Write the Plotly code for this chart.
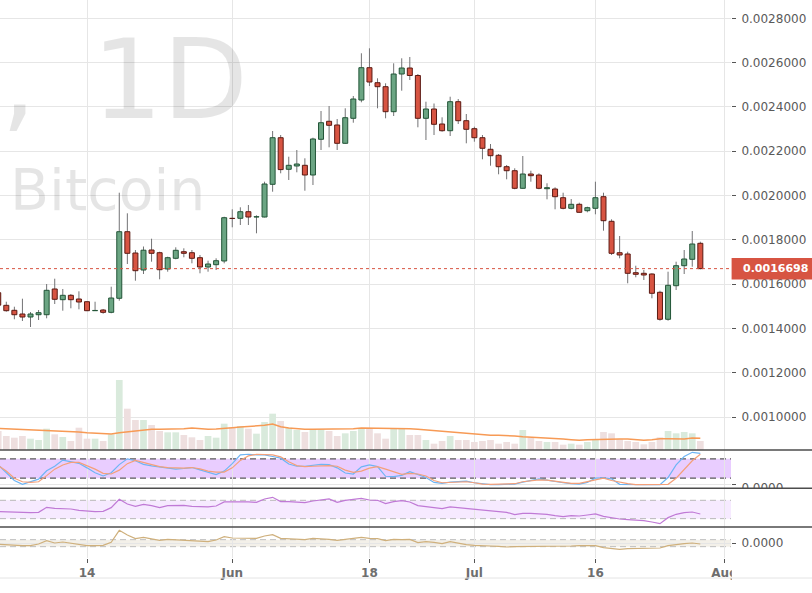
import pandas as pd
import plotly.graph_objects as go

# daily candles, 2018-05-03 .. 2018-07-29 (price in BTC)
dates = pd.date_range("2018-05-03", "2018-07-29", freq="D")

opens = [0.0015611, 0.0015042, 0.0014817, 0.0014650, 0.0014514, 0.0014618, 0.0014618, 0.0015779, 0.0015296, 0.0015494,
         0.0015327, 0.0015205, 0.0014799, 0.0014830, 0.0014726, 0.0015359, 0.0018365, 0.0017404, 0.0016636, 0.0017539,
         0.0017417, 0.0016681, 0.0017164, 0.0017462, 0.0017417, 0.0017192, 0.0016772, 0.0016876, 0.0017043, 0.0018970,
         0.0018970, 0.0019268, 0.0019029, 0.0019029, 0.0020505, 0.0022609, 0.0021183, 0.0021332, 0.0021363, 0.0020925,
         0.0022537, 0.0023350, 0.0023183, 0.0022356, 0.0023485, 0.0024311, 0.0025770, 0.0025092, 0.0024912, 0.0023783,
         0.0025485, 0.0025756, 0.0025417, 0.0023485, 0.0023905, 0.0023228, 0.0022925, 0.0024235, 0.0023377, 0.0023016,
         0.0022609, 0.0022086, 0.0021815, 0.0021300, 0.0021119, 0.0020325, 0.0020970, 0.0020925, 0.0020307, 0.0020293,
         0.0019900, 0.0019422, 0.0019602, 0.0019314, 0.0019422, 0.0019946, 0.0018835, 0.0017417, 0.0017359, 0.0016515,
         0.0016487, 0.0016456, 0.0015630, 0.0014411, 0.0015927, 0.0016830, 0.0017119, 0.0017842]
highs = [0.0015733, 0.0015205, 0.0014979, 0.0015341, 0.0014740, 0.0014830, 0.0016004, 0.0016244, 0.0015779, 0.0015553,
         0.0015675, 0.0015220, 0.0015205, 0.0014876, 0.0015882, 0.0020126, 0.0019196, 0.0017539, 0.0017697, 0.0018049,
         0.0017462, 0.0017237, 0.0017661, 0.0017616, 0.0017539, 0.0017314, 0.0017056, 0.0017164, 0.0019042, 0.0019377,
         0.0019467, 0.0019571, 0.0019106, 0.0020623, 0.0022912, 0.0022731, 0.0021751, 0.0022054, 0.0021679, 0.0022609,
         0.0023815, 0.0024040, 0.0023453, 0.0023937, 0.0024492, 0.0026420, 0.0026645, 0.0025291, 0.0025065, 0.0025968,
         0.0026194, 0.0026253, 0.0025485, 0.0024235, 0.0024153, 0.0023530, 0.0024460, 0.0024356, 0.0023679, 0.0023106,
         0.0022731, 0.0022325, 0.0021873, 0.0021377, 0.0021228, 0.0021783, 0.0021119, 0.0021002, 0.0020551, 0.0020370,
         0.0020126, 0.0019842, 0.0019675, 0.0019494, 0.0020623, 0.0020126, 0.0018925, 0.0018171, 0.0017462, 0.0016830,
         0.0016636, 0.0016487, 0.0015702, 0.0016560, 0.0017011, 0.0017539, 0.0018397, 0.0017914]
lows = [0.0014876, 0.0014754, 0.0014411, 0.0014334, 0.0014063, 0.0014379, 0.0014456, 0.0015101, 0.0014799, 0.0014907,
        0.0014862, 0.0014780, 0.0014790, 0.0014663, 0.0014681, 0.0015250, 0.0016907, 0.0016153, 0.0016456, 0.0017011,
        0.0016216, 0.0016560, 0.0017119, 0.0017210, 0.0016939, 0.0016487, 0.0016560, 0.0016636, 0.0016939, 0.0018564,
        0.0018668, 0.0018668, 0.0018293, 0.0019010, 0.0020171, 0.0021002, 0.0020700, 0.0021047, 0.0020216, 0.0020474,
        0.0022054, 0.0022176, 0.0022054, 0.0022340, 0.0023286, 0.0024207, 0.0024943, 0.0023937, 0.0023485, 0.0023589,
        0.0024731, 0.0025214, 0.0023079, 0.0022505, 0.0022731, 0.0022880, 0.0022686, 0.0023228, 0.0022356, 0.0022429,
        0.0021634, 0.0021345, 0.0020957, 0.0020731, 0.0020280, 0.0020310, 0.0020623, 0.0020280, 0.0019828, 0.0019377,
        0.0019377, 0.0019377, 0.0019223, 0.0019241, 0.0019151, 0.0018411, 0.0017314, 0.0017164, 0.0016036, 0.0016307,
        0.0016185, 0.0015359, 0.0014347, 0.0014347, 0.0015733, 0.0016456, 0.0016785, 0.0016668]
closes = [0.0015050, 0.0014799, 0.0014618, 0.0014514, 0.0014650, 0.0014709, 0.0015720, 0.0015314, 0.0015494, 0.0015296,
          0.0015192, 0.0014799, 0.0014810, 0.0014726, 0.0015372, 0.0018365, 0.0017390, 0.0016605, 0.0017530, 0.0017390,
          0.0016650, 0.0017192, 0.0017526, 0.0017390, 0.0017164, 0.0016772, 0.0016907, 0.0017056, 0.0018997, 0.0018960,
          0.0019268, 0.0019029, 0.0019042, 0.0020519, 0.0022609, 0.0021169, 0.0021363, 0.0021422, 0.0020925, 0.0022551,
          0.0023286, 0.0023169, 0.0022356, 0.0023512, 0.0024356, 0.0025770, 0.0025124, 0.0024912, 0.0023783, 0.0025485,
          0.0025756, 0.0025417, 0.0023485, 0.0023905, 0.0023214, 0.0022925, 0.0024235, 0.0023377, 0.0022988, 0.0022609,
          0.0022131, 0.0021797, 0.0021300, 0.0021119, 0.0020325, 0.0020970, 0.0020894, 0.0020325, 0.0020352, 0.0019946,
          0.0019422, 0.0019602, 0.0019241, 0.0019449, 0.0019900, 0.0018862, 0.0017390, 0.0017314, 0.0016487, 0.0016442,
          0.0016411, 0.0015584, 0.0014411, 0.0015945, 0.0016830, 0.0017133, 0.0017810, 0.0016698]

volume = [57, 42, 37, 42, 34, 30, 64, 47, 39, 27, 67, 34, 34, 27, 47, 210, 124, 90, 90, 75,
          57, 53, 53, 45, 38, 30, 42, 37, 79, 67, 72, 64, 49, 84, 109, 87, 67, 60, 54, 62,
          62, 57, 42, 50, 57, 65, 66, 50, 34, 64, 64, 45, 45, 30, 19, 27, 42, 30, 30, 24,
          27, 30, 19, 24, 19, 60, 37, 27, 24, 24, 16, 19, 16, 24, 32, 54, 50, 32, 27, 24,
          17, 24, 38, 57, 50, 54, 50, 27]
volume_ma = [65, 64, 64, 63, 62, 61, 59, 58, 57, 55, 54, 52, 50, 49, 48, 52, 55, 58, 61, 62,
             62, 62, 62, 64, 66, 64, 62, 63, 66, 67, 69, 70, 72, 74, 78, 70, 66, 63, 62, 62,
             62, 62, 62, 62, 64, 66, 66, 66, 66, 66, 66, 64, 62, 60, 57, 55, 53, 51, 49, 47,
             45, 44, 44, 44, 42, 40, 39, 38, 37, 35, 33, 31, 29, 31, 32, 33, 33, 33, 33, 32,
             29, 31, 34, 34, 34, 33, 36, 35]

stoch_k = [61, 36, 13, 1, 10, 17, 43, 57, 76, 71, 66, 52, 37, 27, 37, 62, 80, 74, 63, 58,
           54, 50, 48, 50, 53, 46, 38, 31, 42, 65, 92, 94, 92, 92, 87, 82, 64, 57, 57, 59,
           63, 62, 52, 36, 33, 55, 61, 56, 26, 25, 29, 40, 31, 22, 7, 4, 8, 9, 11, 6,
           2, 0, 0, 0, 2, 8, 13, 18, 14, 9, 6, 3, 2, 7, 20, 21, 18, 1, 0, 0,
           0, 0, 0, 22, 61, 87, 100, 97]
stoch_d = [59, 42, 20, 9, 7, 9, 28, 48, 61, 69, 69, 59, 48, 35, 33, 45, 65, 75, 68, 61,
           56, 53, 51, 51, 53, 49, 42, 39, 39, 52, 75, 89, 94, 94, 92, 86, 71, 59, 56, 57,
           59, 59, 57, 45, 38, 42, 51, 56, 48, 40, 32, 35, 33, 27, 13, 6, 7, 9, 9, 6,
           2, 1, 1, 1, 3, 9, 13, 15, 14, 10, 6, 4, 4, 9, 16, 20, 13, 7, 3, 0,
           0, 0, 0, 1, 20, 48, 74, 94]

rsi = [45.3, 44.5, 43.1, 43.1, 43.1, 43.8, 54.7, 52.5, 51.8, 51.1, 48.2, 46.0, 45.3, 46.0, 54.0, 72.2, 62.0, 56.9, 61.3, 58.4,
       54.0, 58.4, 59.1, 59.1, 56.9, 55.5, 55.5, 57.6, 66.4, 66.4, 67.1, 66.4, 65.6, 72.9, 76.5, 67.1, 67.1, 65.6, 64.9, 68.5,
       71.5, 72.9, 65.6, 70.0, 72.2, 74.4, 70.7, 70.0, 62.7, 67.1, 69.3, 66.4, 58.4, 56.2, 54.7, 51.8, 55.5, 54.0, 51.8, 50.4,
       48.2, 47.5, 46.0, 43.8, 38.7, 41.6, 41.6, 40.9, 39.5, 36.5, 34.4, 36.5, 35.8, 38.0, 40.2, 35.1, 31.5, 29.3, 27.8, 27.1,
       25.6, 22.7, 19.1, 32.2, 39.5, 43.1, 44.5, 40.2]

cci = [-33, -52, -71, -71, -71, -24, 71, 5, 33, -5, -33, -71, -71, -62, 24, 367, 233, 129, 167, 129,
       81, 109, 100, 90, 62, 52, 43, 90, 186, 148, 148, 148, 138, 205, 243, 138, 119, 109, 100, 138,
       129, 109, 81, 109, 138, 167, 138, 129, 71, 109, 100, 109, 14, 43, 24, -14, 43, -5, -43, -62,
       -81, -81, -90, -109, -100, -100, -100, -90, -100, -90, -81, -81, -71, -62, -71, -129, -157, -176, -157, -148,
       -138, -138, -138, -71, -33, -14, 5, -24]

last_price = 0.0016698
price_ticks = [0.0010, 0.0012, 0.0014, 0.0016, 0.0018, 0.0020, 0.0022, 0.0024, 0.0026, 0.0028]
date_ticks = ["2018-05-14", "2018-06-01", "2018-06-18", "2018-07-01", "2018-07-16", "2018-08-01"]
date_labels = ["14", "Jun", "18", "Jul", "16", "Aug"]

UP, DOWN = "#6ba583", "#d75442"
UP_EDGE, DOWN_EDGE = "#225437", "#5b1a13"
FONT = "DejaVu Sans"

x_start = pd.Timestamp("2018-05-03 05:17")
x_end = pd.Timestamp("2018-08-01 19:12")
PW = 731.0   # plot width in px
PH = 558.0   # plot height in px
DAY_MS = 86400000
P_TOP = 0.0028826   # price at top edge
P_PX = 4.5147e-6    # price per pixel


def xpx(px):
    return x_start + (x_end - x_start) * (px / PW)


def fy(py):
    # paper y from pixel row
    return 1 - py / PH


up = [c >= o for o, c in zip(opens, closes)]
body_base = [min(o, c) for o, c in zip(opens, closes)]
body_h = [abs(c - o) for o, c in zip(opens, closes)]

wick_x, wick_y = [], []
for d, lo, hi in zip(dates, lows, highs):
    wick_x += [d, d, None]
    wick_y += [lo, hi, None]

fig = go.Figure()

# watermark
fig.add_trace(go.Scatter(
    x=[xpx(248), xpx(10)], y=[P_TOP - 90 * P_PX, P_TOP - 196 * P_PX],
    mode="text", text=[",\u20021D", "Bitcoin"], textposition=["middle left", "middle right"],
    textfont=dict(family=FONT, size=[111, 57], color="rgba(0,0,0,0.1)"),
    hoverinfo="skip", zorder=0))

fig.add_trace(go.Scatter(x=wick_x, y=wick_y, mode="lines", line=dict(color="#737375", width=1),
                         hoverinfo="skip", zorder=1))
fig.add_trace(go.Bar(x=dates, y=body_h, base=body_base, width=0.62 * DAY_MS,
                     marker=dict(color=[UP if u else DOWN for u in up],
                                 line=dict(color=[UP_EDGE if u else DOWN_EDGE for u in up], width=1)),
                     zorder=2))

# volume overlay
fig.add_trace(go.Bar(x=dates, y=volume, width=0.83 * DAY_MS, yaxis="y2",
                     marker=dict(color=["#d9eadc" if u else "#eedfdf" for u in up], line=dict(width=0))))
fig.add_trace(go.Scatter(x=dates, y=volume_ma, yaxis="y2", mode="lines",
                         line=dict(color="#f79a55", width=1.5)))

# stochastic
fig.add_trace(go.Scatter(x=dates, y=stoch_k, yaxis="y3", mode="lines", line=dict(color="#6db5f5", width=1.2)))
fig.add_trace(go.Scatter(x=dates, y=stoch_d, yaxis="y3", mode="lines", line=dict(color="#f4a07a", width=1.2)))
# rsi
fig.add_trace(go.Scatter(x=dates, y=rsi, yaxis="y4", mode="lines", line=dict(color="#c07ad6", width=1.2)))
# cci
fig.add_trace(go.Scatter(x=dates, y=cci, yaxis="y5", mode="lines", line=dict(color="#cfb07c", width=1.2)))

shapes = []


def hband(yref, lo, hi, fill):
    shapes.append(dict(type="rect", xref="paper", x0=0, x1=1, yref=yref, y0=lo, y1=hi,
                       fillcolor=fill, line=dict(width=0), layer="below"))


def hdash(yref, yv, color, w):
    shapes.append(dict(type="line", xref="paper", x0=0, x1=1, yref=yref, y0=yv, y1=yv,
                       line=dict(color=color, width=w, dash="6px,4px"), layer="below"))


hband("y3", 20, 80, "rgba(153,21,255,0.21)")
hdash("y3", 20, "#5c5c5c", 1.3)
hdash("y3", 80, "#5c5c5c", 1.3)
hband("y4", 30, 70, "rgba(153,21,255,0.09)")
hdash("y4", 30, "#b8b8b8", 1)
hdash("y4", 70, "#b8b8b8", 1)
hband("y5", -100, 100, "rgba(160,130,70,0.12)")
hdash("y5", -100, "#bdbdbd", 1)
hdash("y5", 100, "#bdbdbd", 1)

# last price line and label
shapes.append(dict(type="line", xref="paper", x0=0, x1=1, yref="y", y0=last_price, y1=last_price,
                   line=dict(color=DOWN, width=1, dash="dot"), layer="above"))
shapes.append(dict(type="rect", xref="paper", x0=731.6 / PW, x1=812 / PW, yref="y",
                   y0=last_price - 4.85e-5, y1=last_price + 4.85e-5,
                   fillcolor=DOWN, line=dict(width=0), layer="above"))
# clip boxes (stoch scale label, Aug label)
shapes.append(dict(type="rect", xref="paper", x0=732.5 / PW, x1=812 / PW, yref="paper",
                   y0=fy(497), y1=fy(488.3), fillcolor="white", line=dict(width=0), layer="above"))
shapes.append(dict(type="rect", xref="paper", x0=731.8 / PW, x1=812 / PW, yref="paper",
                   y0=fy(592), y1=fy(559.5), fillcolor="white", line=dict(width=0), layer="above"))
# pane separators
for py in (450, 488.3, 527):
    shapes.append(dict(type="line", xref="paper", x0=0, x1=812 / PW, yref="paper", y0=fy(py), y1=fy(py),
                       line=dict(color="#4c4c4c", width=1.5), layer="above"))
shapes.append(dict(type="line", xref="paper", x0=0, x1=812 / PW, yref="paper", y0=fy(578), y1=fy(578),
                   line=dict(color="#e4e4e4", width=1), layer="above"))

axis_common = dict(side="right", anchor="x", showline=True, linecolor="#555", linewidth=1,
                   ticks="outside", ticklen=4, tickcolor="#555", zeroline=False, automargin=False,
                   tickfont=dict(family=FONT, size=12, color="#5a5a5a"), ticklabelstandoff=3)

fig.update_layout(
    width=812, height=593,
    margin=dict(l=0, r=81, t=0, b=35),
    paper_bgcolor="white", plot_bgcolor="white",
    showlegend=False, barmode="overlay",
    font=dict(family=FONT, size=12, color="#5a5a5a"),
    xaxis=dict(type="date", range=[x_start, x_end], anchor="y5", tickvals=date_ticks, ticktext=date_labels,
               showgrid=True, gridcolor="#e6e6e6", gridwidth=1, showline=True, linecolor="#555",
               ticks="outside", ticklen=4, tickcolor="#555", zeroline=False, automargin=False,
               tickfont=dict(family=FONT, size=12, color="#6e6e6e", weight="bold")),
    yaxis=dict(domain=[fy(450), 1], range=[0.000851, P_TOP], tickvals=price_ticks, tickformat=".7f",
               showgrid=True, gridcolor="#e6e6e6", **axis_common),
    yaxis2=dict(overlaying="y", range=[0, 1350], visible=False, showgrid=False),
    yaxis3=dict(domain=[fy(488.3), fy(450)], range=[-11.2, 107.2], tickvals=[0], tickformat=".4f",
                showgrid=True, gridcolor="#e6e6e6", ticklabelshift=3, **axis_common),
    yaxis4=dict(domain=[fy(527), fy(488.3)], range=[11.8, 96.2], tickvals=[], showgrid=False, **axis_common),
    yaxis5=dict(domain=[0, fy(527)], range=[-424, 462], tickvals=[0], tickformat=".4f",
                showgrid=True, gridcolor="#e6e6e6", **axis_common),
    shapes=shapes,
    annotations=[dict(xref="paper", x=741 / PW, xanchor="left", yref="y", y=last_price, text="0.0016698",
                      showarrow=False, font=dict(family=FONT, size=11, color="white", weight="bold"))],
)

fig.write_html("out.html", config={"displayModeBar": False},
               post_script="document.body.style.margin='0px';")
